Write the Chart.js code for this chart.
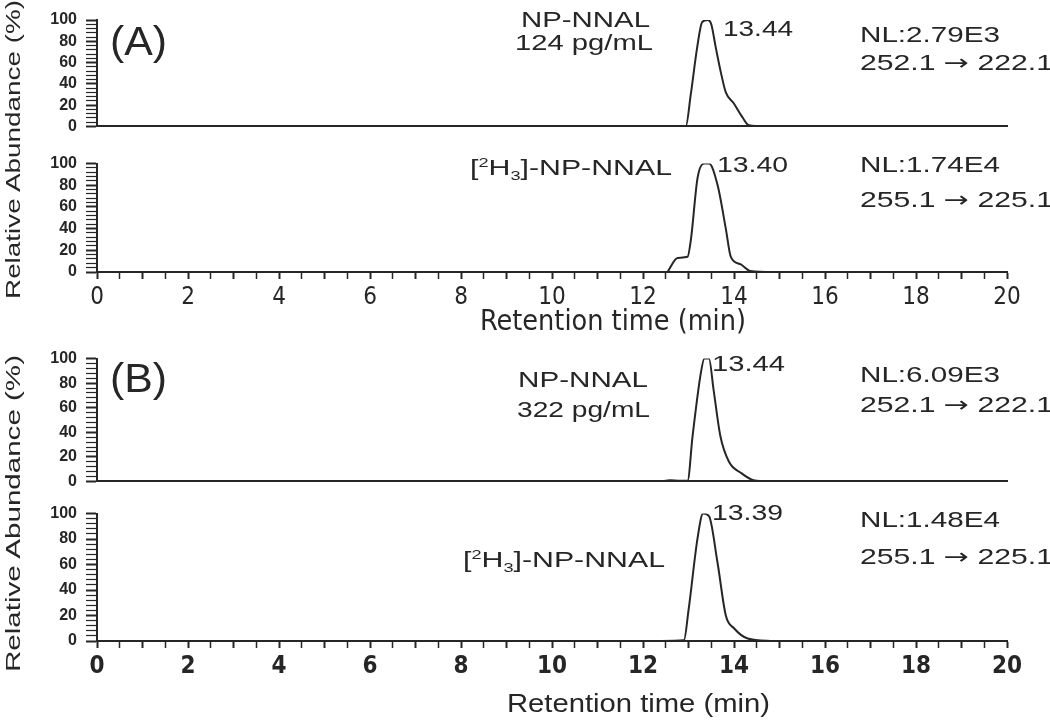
<!DOCTYPE html>
<html>
<head>
<meta charset="utf-8">
<script src="https://cdn.jsdelivr.net/npm/chart.js@4.4.1/dist/chart.umd.min.js"></script>
<style>
  body { margin: 0; background: #fff; }
  #wrap { position: relative; width: 1050px; height: 725px; overflow: hidden;
          font-family: "Liberation Sans", Arial, sans-serif; color: #262626; }
  canvas { position: absolute; left: 0; }
  .lbl { position: absolute; white-space: nowrap; line-height: 1; transform-origin: 0 0; }
  .ytitle { position: absolute; white-space: nowrap; line-height: 1; transform-origin: 50% 50%; }
  .arr { font-family: "DejaVu Sans", sans-serif; }
  sup, sub { font-size: 60%; line-height: 0; }
</style>
</head>
<body>
<div id="wrap">
  <canvas id="cA1" width="1050" height="145" style="top:0px"></canvas>
  <canvas id="cA2" width="1050" height="200" style="top:145px"></canvas>
  <canvas id="cB1" width="1050" height="160" style="top:340px"></canvas>
  <canvas id="cB2" width="1050" height="230" style="top:495px"></canvas>
</div>

<script>
// retention time axis (min) and relative abundance axis (%)
const timeMin = 0, timeMax = 20;
const abundMin = 0, abundMax = 100;

// (A) NP-NNAL 124 pg/mL, 252.1 -> 222.1
const timeA1  = [12.54, 12.94, 13.05, 13.19, 13.30, 13.42, 13.50, 13.60, 13.71, 13.82, 13.99, 14.18, 14.33, 14.73];
const abundA1 = [0,     0,     30,    74,    98,    100,   96,    74,    51,    32,    22,    9,     1,     0];

// (A) [2H3]-NP-NNAL, 255.1 -> 225.1
const timeA2  = [12.54, 12.76, 12.98, 13.05, 13.20, 13.34, 13.45, 13.64, 13.82, 13.93, 14.15, 14.36, 14.95];
const abundA2 = [0,     13,    14,    29,    87,    100,   100,   80,    40,    14,    7,     1,     0];

// (B) NP-NNAL 322 pg/mL, 252.1 -> 222.1
const timeB1  = [12.39, 12.60, 12.80, 12.98, 13.09, 13.27, 13.35, 13.45, 13.55, 13.70, 13.89, 14.15, 14.43, 14.87];
const abundB1 = [0,     1,     0.5,   0.5,   37,    88,    100,   100,   75,    37,    16,    7,     1,     0];

// (B) [2H3]-NP-NNAL, 255.1 -> 225.1
const timeB2  = [12.39, 12.90, 13.00, 13.20, 13.32, 13.45, 13.64, 13.82, 14.00, 14.30, 14.87];
const abundB2 = [0,     0.5,   24,    81,    100,   98,    61,    20,    10,    2,     0];

const ink = '#262626';
const narrow = '"Liberation Sans Narrow", "DejaVu Sans Condensed", sans-serif';
const regular = '"Liberation Sans", Arial, sans-serif';

function makePanel(id, times, values, o) {
  const ctx = document.getElementById(id).getContext('2d');
  return new Chart(ctx, {
    type: 'line',
    data: {
      datasets: [{
        data: times.map((t, i) => ({ x: t, y: values[i] })),
        borderColor: ink,
        borderWidth: 2,
        pointRadius: 0,
        cubicInterpolationMode: 'monotone'
      }]
    },
    options: {
      responsive: false,
      animation: false,
      layout: { padding: { top: o.padTop, right: 43, left: 0, bottom: 0 } },
      plugins: { legend: { display: false }, tooltip: { enabled: false } },
      scales: {
        x: {
          type: 'linear',
          min: timeMin,
          max: timeMax,
          afterFit: s => { s.height = o.xHeight; },
          ticks: {
            display: o.showX,
            stepSize: 0.5,
            autoSkip: false,
            maxRotation: 0,
            padding: 4,
            color: ink,
            font: o.xTickFont,
            callback: v => (v % 2 === 0 ? v : '')
          },
          grid: { drawOnChartArea: false, drawTicks: o.showX, tickLength: 7, tickColor: ink,
                  tickWidth: c => (c.tick && c.tick.value % 1 === 0 ? 2 : 1.5) },
          border: { color: ink, width: 2 }
        },
        y: {
          min: abundMin,
          max: abundMax,
          afterFit: s => { s.width = 97; },
          ticks: {
            stepSize: 4,
            autoSkip: false,
            padding: 9,
            color: ink,
            font: { family: regular, size: 16, weight: 'bold' },
            callback: v => (v % 20 === 0 ? v : '')
          },
          grid: { drawOnChartArea: false, tickLength: 11, tickColor: ink,
                  tickWidth: c => (c.tick && c.tick.value % 20 === 0 ? 2 : 1.2) },
          border: { color: ink, width: 2 }
        }
      }
    }
  });
}

makePanel('cA1', timeA1, abundA1, { padTop: 20, xHeight: 10, showX: false });
makePanel('cA2', timeA2, abundA2, {
  padTop: 12, xHeight: 73, showX: true,
  xTickFont: { family: narrow, size: 24 }
});
makePanel('cB1', timeB1, abundB1, { padTop: 17, xHeight: 10, showX: false });
makePanel('cB2', timeB2, abundB2, {
  padTop: 10, xHeight: 84, showX: true,
  xTickFont: { family: narrow, size: 24, weight: 'bold' }
});

// text labels: stretched horizontally to the width they take in the figure
const wrap = document.getElementById('wrap');
function label(html, left, right, base, size, family) {
  const d = document.createElement('div');
  d.className = 'lbl';
  d.innerHTML = html;
  d.style.fontSize = size + 'px';
  d.style.fontFamily = family || regular;
  d.style.left = left + 'px';
  d.style.top = (base - 0.846 * size) + 'px';
  wrap.appendChild(d);
  const w = d.getBoundingClientRect().width;
  d.style.transform = 'scaleX(' + ((right - left) / w) + ')';
}
function yTitle(cx, top, bottom, size) {
  const d = document.createElement('div');
  d.className = 'ytitle';
  d.textContent = 'Relative Abundance (%)';
  d.style.fontSize = size + 'px';
  wrap.appendChild(d);
  const w = d.getBoundingClientRect().width;
  d.style.left = (cx - w / 2) + 'px';
  d.style.top = ((top + bottom) / 2 - size / 2) + 'px';
  d.style.transform = 'rotate(-90deg) scaleX(' + ((bottom - top) / w) + ')';
}

const arrow = ' <span class="arr">→</span> ';
const d3 = '[<sup>2</sup>H<sub>3</sub>]-NP-NNAL';

yTitle(13, 0, 299, 21);
yTitle(13, 355, 672, 21);

label('(A)', 110, 167, 55, 40);
label('NP-NNAL', 521, 650, 28, 22);
label('124 pg/mL', 515, 653, 51, 22);
label('13.44', 723, 793, 37, 22);
label('NL:2.79E3', 860, 1000, 43, 22);
label('252.1' + arrow + '222.1', 860, 1053, 71, 22);

label(d3, 470, 672, 176, 22);
label('13.40', 717, 788, 173, 22);
label('NL:1.74E4', 860, 1000, 173, 22);
label('255.1' + arrow + '225.1', 860, 1053, 208, 22);
label('Retention time (min)', 480, 746, 331, 28, narrow);

label('(B)', 110, 167, 392, 40);
label('NP-NNAL', 518, 648, 388, 22);
label('322 pg/mL', 517, 650, 418, 22);
label('13.44', 712, 785, 372, 22);
label('NL:6.09E3', 860, 1000, 383, 22);
label('252.1' + arrow + '222.1', 860, 1053, 413, 22);

label('13.39', 712, 783, 521, 22);
label(d3, 463, 665, 568, 22);
label('NL:1.48E4', 860, 1000, 528, 22);
label('255.1' + arrow + '225.1', 860, 1053, 565, 22);
label('Retention time (min)', 507, 770, 712, 25);
</script>
</body>
</html>
